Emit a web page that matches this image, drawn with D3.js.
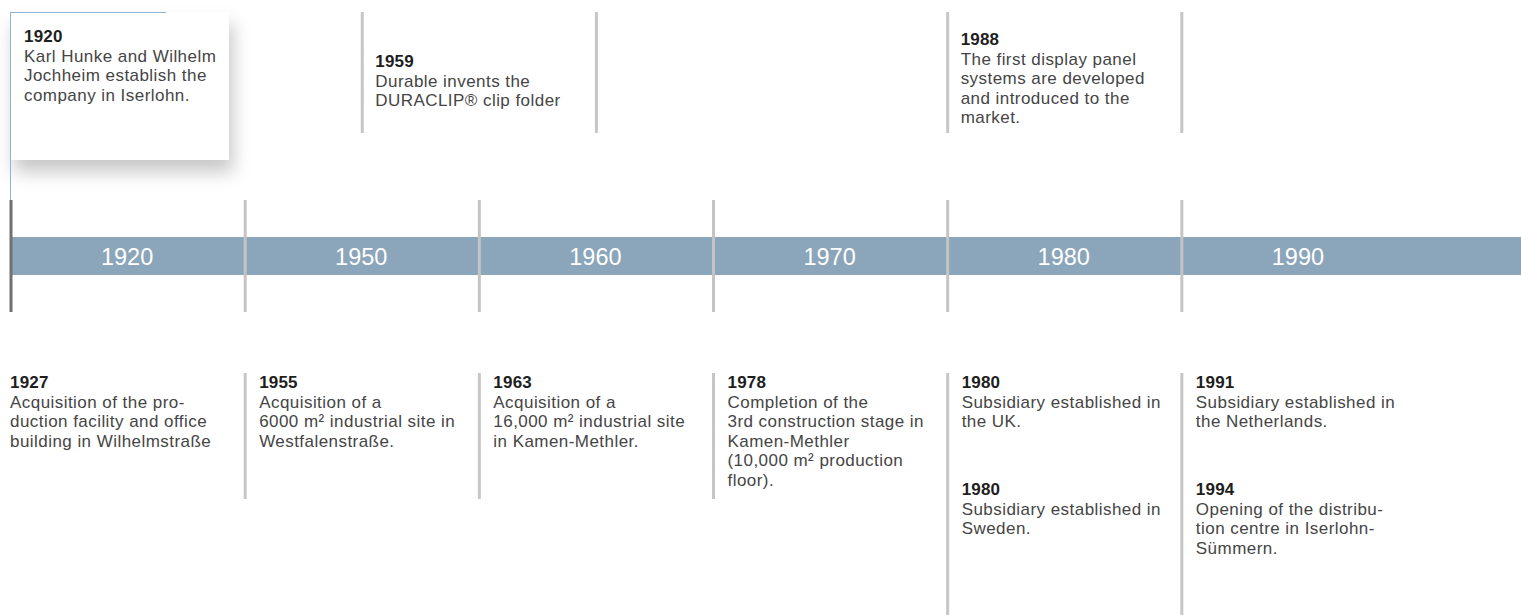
<!DOCTYPE html>
<html>
<head>
<meta charset="utf-8">
<script src="https://cdn.jsdelivr.net/npm/d3@7"></script>
<style>
  body { margin: 0; background: #fff; }
  svg { display: block; font-family: "Liberation Sans", Arial, sans-serif; }
  .body-text { fill: #454545; font-size: 17px; letter-spacing: 0.45px; }
  .year { fill: #1e1e1e; font-size: 17px; font-weight: bold; letter-spacing: 0.2px; }
  .decade { fill: #fff; font-size: 23.5px; }
</style>
</head>
<body>
<div id="chart"></div>
<script>
"use strict";

// decades shown on the band
var decades = ["1920", "1950", "1960", "1970", "1980", "1990"];

// events above the band, slot = position in decade columns
var topEvents = [
    {year: "1920", slot: 0, card: true, lines: ["Karl Hunke and Wilhelm", "Jochheim establish the", "company in Iserlohn."]},
    {year: "1959", slot: 1.5, lines: ["Durable invents the", "DURACLIP\u00AE clip folder"]},
    {year: "1988", slot: 4, lines: ["The first display panel", "systems are developed", "and introduced to the", "market."]}
];

// separators above the band (in slots)
var topRules = [1.5, 2.5, 4, 5];

// events below the band, row = stacking inside a column
var bottomEvents = [
    {year: "1927", slot: 0, row: 0, lines: ["Acquisition of the pro-", "duction facility and office", "building in Wilhelmstra\u00DFe"]},
    {year: "1955", slot: 1, row: 0, lines: ["Acquisition of a", "6000 m\u00B2 industrial site in", "Westfalenstra\u00DFe."]},
    {year: "1963", slot: 2, row: 0, lines: ["Acquisition of a", "16,000 m\u00B2 industrial site", "in Kamen-Methler."]},
    {year: "1978", slot: 3, row: 0, lines: ["Completion of the", "3rd construction stage in", "Kamen-Methler", "(10,000 m\u00B2 production", "floor)."]},
    {year: "1980", slot: 4, row: 0, lines: ["Subsidiary established in", "the UK."]},
    {year: "1980", slot: 4, row: 1, lines: ["Subsidiary established in", "Sweden."]},
    {year: "1991", slot: 5, row: 0, lines: ["Subsidiary established in", "the Netherlands."]},
    {year: "1994", slot: 5, row: 1, lines: ["Opening of the distribu-", "tion centre in Iserlohn-", "S\u00FCmmern."]}
];

var svgWidth = 1521;
var svgHeight = 615;
var lineHeight = 19.5;

var bandTop = 237, bandHeight = 38;
var tickTop = 200, tickBottom = 312;
var topRuleTop = 12, topRuleBottom = 133;
var bottomTop = 373, rowStep = 107;

var svg = d3.select("#chart").append("svg").attr("width", svgWidth).attr("height", svgHeight);

var x = d3.scaleLinear().domain([0, decades.length]).range([10, 1415]);

// drop shadow for the first card
var defs = svg.append("defs");
var shadow = defs.append("filter").attr("id", "cardShadow")
    .attr("x", "-20%").attr("y", "-20%").attr("width", "150%").attr("height", "170%");
shadow.append("feDropShadow").attr("dx", 4).attr("dy", 12).attr("stdDeviation", 9)
    .attr("flood-color", "#000").attr("flood-opacity", 0.22);

// band
svg.append("rect").attr("x", x(0)).attr("y", bandTop)
    .attr("width", svgWidth - x(0)).attr("height", bandHeight).attr("fill", "#8ba5ba");

// decade separators crossing the band
svg.append("g").selectAll("line").data(decades).enter()
    .append("line")
    .attr("x1", function (d, i) { return x(i) + 1; })
    .attr("x2", function (d, i) { return x(i) + 1; })
    .attr("y1", tickTop).attr("y2", tickBottom)
    .attr("stroke", function (d, i) { return i === 0 ? "#707070" : "#c4c4c4"; })
    .attr("stroke-width", 3);

svg.append("g").selectAll("text").data(decades).enter()
    .append("text").attr("class", "decade")
    .attr("x", function (d, i) { return x(i + 0.5); })
    .attr("y", bandTop + 28)
    .attr("text-anchor", "middle")
    .text(function (d) { return d; });

// card for the founding year
var cardX = x(0), cardW = 219;
svg.append("rect").attr("x", cardX).attr("y", 12).attr("width", cardW).attr("height", 148)
    .attr("fill", "#fff").attr("filter", "url(#cardShadow)");
svg.append("line").attr("x1", cardX).attr("x2", cardX + 156).attr("y1", 12.5).attr("y2", 12.5)
    .attr("stroke", "#93b2cc").attr("stroke-width", 1);
svg.append("line").attr("x1", cardX + 0.5).attr("x2", cardX + 0.5).attr("y1", 12).attr("y2", tickTop)
    .attr("stroke", "#93b2cc").attr("stroke-width", 1);

// separators above the band
svg.append("g").selectAll("line").data(topRules).enter()
    .append("line")
    .attr("x1", function (d) { return x(d) + 1; })
    .attr("x2", function (d) { return x(d) + 1; })
    .attr("y1", topRuleTop).attr("y2", topRuleBottom)
    .attr("stroke", "#c6c6c6").attr("stroke-width", 3);

// separators below the band, longer where a column holds two events
var bottomCols = d3.rollups(bottomEvents, function (v) { return d3.max(v, function (e) { return e.row; }) + 1; },
    function (e) { return e.slot; }).filter(function (c) { return c[0] > 0; });
svg.append("g").selectAll("line").data(bottomCols).enter()
    .append("line")
    .attr("x1", function (d) { return x(d[0]) + 1; })
    .attr("x2", function (d) { return x(d[0]) + 1; })
    .attr("y1", bottomTop)
    .attr("y2", function (d) { return d[1] > 1 ? svgHeight : bottomTop + 126; })
    .attr("stroke", "#c6c6c6").attr("stroke-width", 3);

function drawEvent(g, d, x0, y0) {
    var t = g.append("text").attr("x", x0).attr("y", y0);
    t.append("tspan").attr("class", "year").attr("x", x0).text(d.year);
    d.lines.forEach(function (l) {
        t.append("tspan").attr("class", "body-text").attr("x", x0).attr("dy", lineHeight).text(l);
    });
}

var topGroup = svg.append("g");
topEvents.forEach(function (d) {
    var n = d.lines.length + 1;
    var y0;
    if (d.card) {
        y0 = 42;
    } else {
        // roughly center the block between the separators
        y0 = 100 - n * (lineHeight / 2 + 1.25);
    }
    drawEvent(topGroup, d, x(d.slot) + 14, y0);
});

var bottomGroup = svg.append("g");
bottomEvents.forEach(function (d) {
    var xo = d.slot === 0 ? x(0) : x(d.slot) + 15;
    drawEvent(bottomGroup, d, xo, bottomTop + 15 + d.row * rowStep);
});
</script>
</body>
</html>
